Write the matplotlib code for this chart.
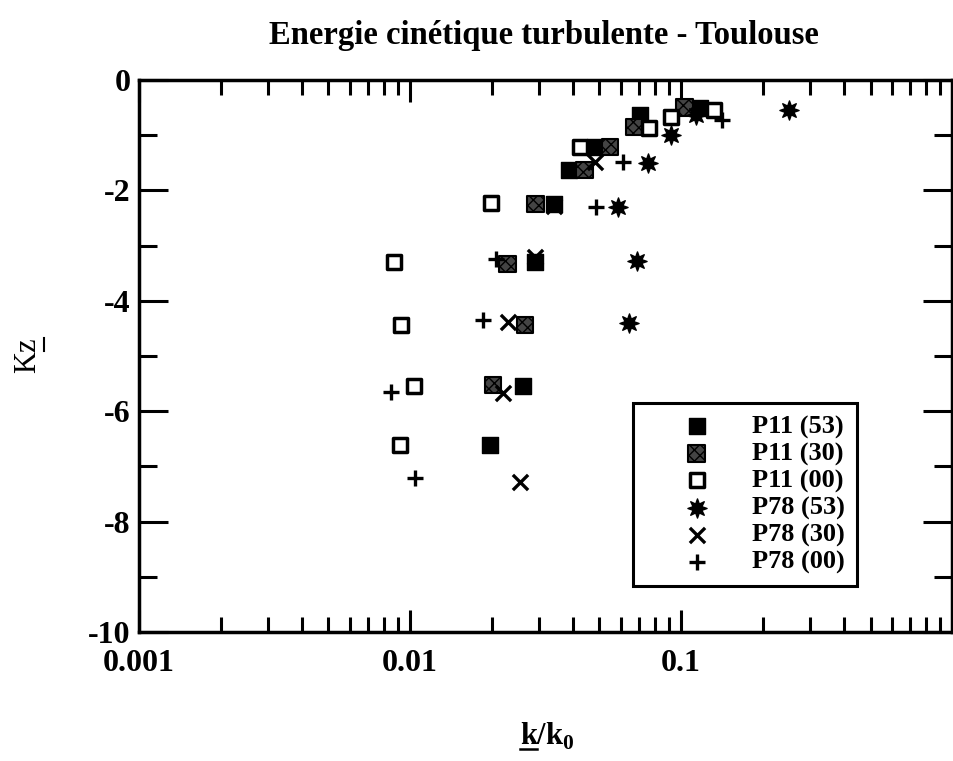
import matplotlib
matplotlib.use("Agg")
import matplotlib.pyplot as plt
from matplotlib.lines import Line2D
from matplotlib.ticker import FixedLocator, NullFormatter, MultipleLocator

plt.rcParams['font.family'] = 'Liberation Serif'
plt.rcParams['mathtext.fontset'] = 'custom'
plt.rcParams['mathtext.rm'] = 'Liberation Serif'
plt.rcParams['mathtext.bf'] = 'Liberation Serif:bold'
plt.rcParams['axes.unicode_minus'] = False

# values
p11_53_x = [0.117, 0.0705, 0.048, 0.0387, 0.034, 0.029, 0.026, 0.0197]
p11_53_y = [-0.5, -0.63, -1.21, -1.63, -2.25, -3.3, -5.54, -6.62]

p11_30_x = [0.103, 0.067, 0.0547, 0.044, 0.029, 0.0229, 0.0265, 0.0202]
p11_30_y = [-0.5, -0.85, -1.21, -1.63, -2.25, -3.33, -4.44, -5.53]

p11_00_x = [0.132, 0.092, 0.076, 0.0425, 0.0199, 0.0087, 0.0093, 0.0103, 0.0092]
p11_00_y = [-0.54, -0.67, -0.87, -1.21, -2.23, -3.3, -4.44, -5.54, -6.61]

p78_53_x = [0.25, 0.114, 0.0917, 0.0753, 0.0586, 0.0687, 0.0643]
p78_53_y = [-0.54, -0.64, -1.0, -1.5, -2.3, -3.28, -4.4]

p78_30_x = [0.048, 0.034, 0.029, 0.0229, 0.022, 0.0254]
p78_30_y = [-1.49, -2.28, -3.2, -4.38, -5.67, -7.28]

p78_00_x = [0.142, 0.061, 0.0486, 0.0207, 0.0186, 0.0085, 0.0104]
p78_00_y = [-0.72, -1.49, -2.3, -3.24, -4.35, -5.65, -7.21]

x_ticks = [0.001, 0.01, 0.1]
x_tick_labels = ['0.001', '0.01', '0.1']
y_ticks = [0, -2, -4, -6, -8, -10]

fig = plt.figure(figsize=(9.54, 7.61), dpi=100)
ax = fig.add_axes([0.1457, 0.1695, 0.8523, 0.7254])

ax.scatter(p11_53_x, p11_53_y, marker='s', s=140, c='black', label='P11 (53)', zorder=3)
ax.scatter(p11_30_x, p11_30_y, marker='s', s=140, facecolor='#444444', edgecolor='black',
           hatch='xxx', linewidth=1.5, label='P11 (30)', zorder=3)
ax.scatter(p11_00_x, p11_00_y, marker='s', s=115, facecolor='white', edgecolor='black',
           linewidth=2.5, label='P11 (00)', zorder=3)
ax.scatter(p78_53_x, p78_53_y, marker=(8, 1, 0), s=190, c='black', label='P78 (53)', zorder=3)
ax.scatter(p78_30_x, p78_30_y, marker='x', s=120, c='black', linewidth=2.4, label='P78 (30)', zorder=3)
ax.scatter(p78_00_x, p78_00_y, marker='+', s=140, c='black', linewidth=2.4, label='P78 (00)', zorder=3)

ax.set_xscale('log')
ax.set_xlim(0.001, 1)
ax.set_ylim(-10, 0)

ax.xaxis.set_major_locator(FixedLocator(x_ticks))
ax.set_xticklabels(x_tick_labels)
minors = [m * d for d in [0.001, 0.01, 0.1] for m in range(2, 10)]
ax.xaxis.set_minor_locator(FixedLocator(minors))
ax.xaxis.set_minor_formatter(NullFormatter())
ax.set_yticks(y_ticks)
ax.yaxis.set_minor_locator(MultipleLocator(1))

ax.tick_params(axis='both', which='both', direction='in', top=True, right=True, width=2.2)
ax.tick_params(axis='x', which='major', length=16, pad=12)
ax.tick_params(axis='x', which='minor', length=10.5)
ax.tick_params(axis='y', which='major', length=21, pad=6)
ax.tick_params(axis='y', which='minor', length=13)
for lab in ax.get_xticklabels() + ax.get_yticklabels():
    lab.set_fontsize(23)
    lab.set_fontweight('bold')
for sp in ax.spines.values():
    sp.set_linewidth(2.5)

leg = ax.legend(loc='upper left', bbox_to_anchor=(0.608, 0.415), borderaxespad=0,
                frameon=True, fancybox=False, edgecolor='black', framealpha=1,
                prop={'weight': 'bold', 'size': 19}, handletextpad=0.15,
                borderpad=0.45, labelspacing=0.12, handlelength=3.9)
leg.get_frame().set_linewidth(2.2)

fig.text(0.57, 0.953, 'Energie cinétique turbulente - Toulouse', ha='center', va='center',
         fontsize=23.5, fontweight='bold')

xl = fig.text(0.574, 0.021, r'k/k$_\mathbf{0}$', ha='center', va='baseline',
              fontsize=22, fontweight='bold')
yl = fig.text(0.029, 0.533, 'Kz', ha='center', va='center', rotation=90, fontsize=22)

# underline the first k of the x label and the z of the y label
fig.canvas.draw()
r = fig.canvas.get_renderer()
W, H = fig.bbox.width, fig.bbox.height
bb = xl.get_window_extent(r)
tk = fig.text(0, 0, 'k', fontsize=22, fontweight='bold')
kw = tk.get_window_extent(r).width
tk.remove()
fig.add_artist(Line2D([bb.x0 / W, (bb.x0 + kw) / W], [0.021 - 4 / H] * 2, color='black', lw=1.8))
bb2 = yl.get_window_extent(r)
tz = fig.text(0, 0, 'z', fontsize=22)
zw = tz.get_window_extent(r).width
tz.remove()
fig.add_artist(Line2D([(bb2.x1 + 2) / W] * 2, [(bb2.y1 - zw) / H, bb2.y1 / H], color='black', lw=1.5))

fig.savefig('out.png', dpi=100)
